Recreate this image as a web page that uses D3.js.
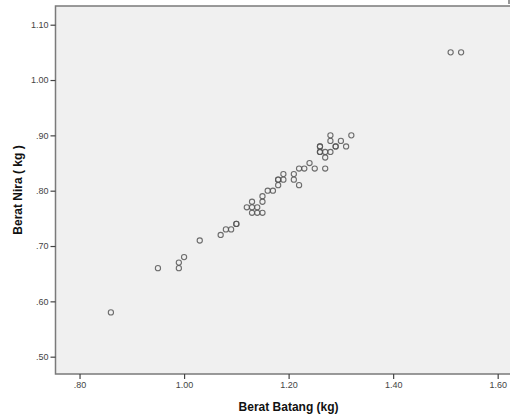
<!DOCTYPE html>
<html>
<head>
<meta charset="utf-8">
<script src="https://cdn.jsdelivr.net/npm/d3@7"></script>
<style>
  html, body { margin: 0; padding: 0; background: #fff; overflow: hidden; }
  svg { display: block; }
</style>
</head>
<body>
<svg id="chart" width="510" height="415"></svg>
<script>
// Data (Berat Batang, Berat Nira)
const beratBatang = [0.86,0.95,0.99,0.99,1.00,1.03,1.07,1.08,1.09,1.10,1.10,1.12,1.13,1.13,1.13,1.14,1.14,1.15,1.15,1.15,1.16,1.17,1.18,1.18,1.18,1.19,1.19,1.21,1.21,1.22,1.22,1.23,1.24,1.25,1.26,1.26,1.26,1.26,1.27,1.27,1.27,1.28,1.28,1.28,1.29,1.29,1.30,1.31,1.32,1.51,1.53];
const beratNira   = [0.58,0.66,0.66,0.67,0.68,0.71,0.72,0.73,0.73,0.74,0.74,0.77,0.78,0.77,0.76,0.77,0.76,0.76,0.78,0.79,0.80,0.80,0.81,0.82,0.82,0.82,0.83,0.83,0.82,0.81,0.84,0.84,0.85,0.84,0.88,0.88,0.87,0.87,0.87,0.86,0.84,0.87,0.89,0.90,0.88,0.88,0.89,0.88,0.90,1.05,1.05];
const xTicks = [0.80,1.00,1.20,1.40,1.60];
const xTickLabels = [".80","1.00","1.20","1.40","1.60"];
const yTicks = [0.50,0.60,0.70,0.80,0.90,1.00,1.10];
const yTickLabels = [".50",".60",".70",".80",".90","1.00","1.10"];
const xTitle = "Berat Batang (kg)";
const yTitle = "Berat Nira ( kg )";

const plot = {left: 55.5, right: 520, top: 6, bottom: 374};
const svg = d3.select("#chart");

const x = d3.scaleLinear().domain([0.754, 1.6427]).range([plot.left, plot.right]);
const y = d3.scaleLinear().domain([0.4687, 1.1338]).range([plot.bottom, plot.top]);

svg.append("rect")
  .attr("x", plot.left).attr("y", plot.top)
  .attr("width", plot.right - plot.left).attr("height", plot.bottom - plot.top)
  .attr("fill", "#f0f0f0").attr("stroke", "#7a7a7a").attr("stroke-width", 1.5);

// small mark at the top-right corner of the original image
svg.append("line").attr("x1", 509).attr("x2", 509).attr("y1", 0).attr("y2", 4)
  .attr("stroke", "#333").attr("stroke-width", 1);

const font = "'Liberation Sans', Arial, sans-serif";

const xAxis = d3.axisBottom(x).tickValues(xTicks)
  .tickFormat((d, i) => xTickLabels[i]).tickSize(5).tickPadding(3);
const gx = svg.append("g").attr("transform", `translate(0,${plot.bottom})`).call(xAxis);
gx.select(".domain").remove();
gx.selectAll("line").attr("stroke", "#444").attr("stroke-width", 1.2);
gx.selectAll("text").attr("font-family", font).attr("font-size", 9).attr("fill", "#444");

const yAxis = d3.axisLeft(y).tickValues(yTicks)
  .tickFormat((d, i) => yTickLabels[i]).tickSize(5).tickPadding(2);
const gy = svg.append("g").attr("transform", `translate(${plot.left},0)`).call(yAxis);
gy.select(".domain").remove();
gy.selectAll("line").attr("stroke", "#444").attr("stroke-width", 1.2);
gy.selectAll("text").attr("font-family", font).attr("font-size", 9).attr("fill", "#444");

svg.append("g").selectAll("circle")
  .data(beratBatang.map((v, i) => [v, beratNira[i]]))
  .join("circle")
  .attr("cx", d => x(d[0])).attr("cy", d => y(d[1]))
  .attr("r", 2.6)
  .attr("fill", "none").attr("stroke", "#555").attr("stroke-width", 1.1)
  .attr("stroke-opacity", 0.85);

svg.append("text")
  .attr("x", x(1.20)).attr("y", 411)
  .attr("text-anchor", "middle")
  .attr("font-family", font).attr("font-weight", "bold").attr("font-size", 12)
  .attr("fill", "#111").text(xTitle);

svg.append("text")
  .attr("transform", `translate(22,190) rotate(-90)`)
  .attr("text-anchor", "middle")
  .attr("font-family", font).attr("font-weight", "bold").attr("font-size", 12)
  .attr("fill", "#111").text(yTitle);
</script>
</body>
</html>
